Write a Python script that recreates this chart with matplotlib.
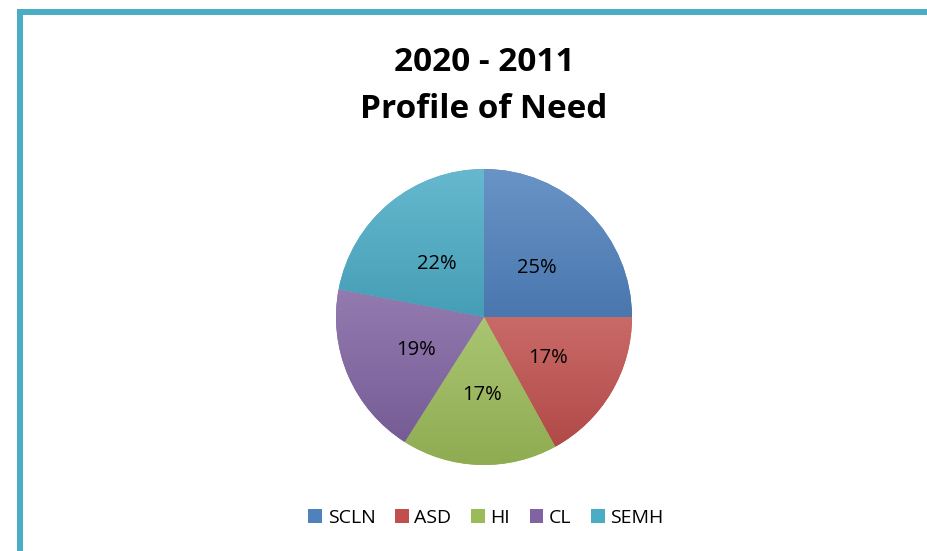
import numpy as np
import matplotlib
matplotlib.use("Agg")
import matplotlib.pyplot as plt
from matplotlib.patches import Patch, Rectangle
from matplotlib.colors import to_rgb

plt.rcParams['font.family'] = ['Open Sans', 'DejaVu Sans']

# data
categories = ['SCLN', 'ASD', 'HI', 'CL', 'SEMH']
shares = [25, 17, 17, 19, 22]
colors = ['#4F81BD', '#C0504D', '#9BBB59', '#8064A2', '#4BACC6']
title_lines = ['2020 - 2011', 'Profile of Need']

W, H = 928, 551
fig = plt.figure(figsize=(W / 100, H / 100), dpi=100)
fig.patch.set_facecolor('white')

# frame lines (top and left) like the slide border
border = '#4BACC6'
fig.add_artist(Rectangle((17 / W, 1 - 15 / H), 1, 6 / H, transform=fig.transFigure,
                         color=border, lw=0))
fig.add_artist(Rectangle((17 / W, 0), 6 / W, 1 - 9 / H, transform=fig.transFigure,
                         color=border, lw=0))

# title, two bold lines
fig.text(484 / W, 1 - 71 / H, title_lines[0], ha='center', va='baseline',
         fontsize=24, fontweight='bold')
fig.text(484 / W, 1 - 118 / H, title_lines[1], ha='center', va='baseline',
         fontsize=24, fontweight='bold')

# pie: center (484, 317), radius 148 px
cx, cy, r = 484, 317, 148
ax = fig.add_axes([(cx - r) / W, (H - cy - r) / H, 2 * r / W, 2 * r / H])
wedges, texts, autotexts = ax.pie(shares, colors=colors, startangle=90, counterclock=False,
                                  radius=1, autopct='%1.0f%%', pctdistance=0.5,
                                  wedgeprops=dict(linewidth=0),
                                  textprops=dict(fontsize=14.5, color='black'))
ax.set_aspect('equal')
ax.axis('off')


def shade(c, f):
    c = np.array(to_rgb(c))
    if f > 0:
        return c + (1 - c) * f
    return c * (1 + f)


# soft vertical gradient on each slice, lighter at the top
for w, c in zip(wedges, colors):
    top, bot = shade(c, 0.15), shade(c, -0.08)
    t = np.linspace(0, 1, 256)[:, None]
    img = (bot[None, :] * (1 - t) + top[None, :] * t)[:, None, :]
    bb = w.get_path().get_extents(w.get_patch_transform())
    im = ax.imshow(img, extent=[bb.x0, bb.x1, bb.y0, bb.y1], origin='lower',
                   aspect='auto', zorder=w.get_zorder(), interpolation='bilinear')
    im.set_clip_path(w)
ax.set_xlim(-1, 1)
ax.set_ylim(-1, 1)
for t in autotexts:
    x, y = t.get_position()
    t.set_position((x, y - 0.025))  # labels sit a touch lower in the original
    t.set_zorder(5)

handles = [Patch(facecolor=c, edgecolor='none') for c in colors]
fig.legend(handles, categories, loc='center', bbox_to_anchor=(486 / W, 1 - 518 / H),
           ncol=5, frameon=False, fontsize=14, handlelength=0.7, handleheight=0.7,
           handletextpad=0.3, columnspacing=1.0)

fig.savefig('out.png', dpi=100, facecolor='white')
plt.close(fig)
